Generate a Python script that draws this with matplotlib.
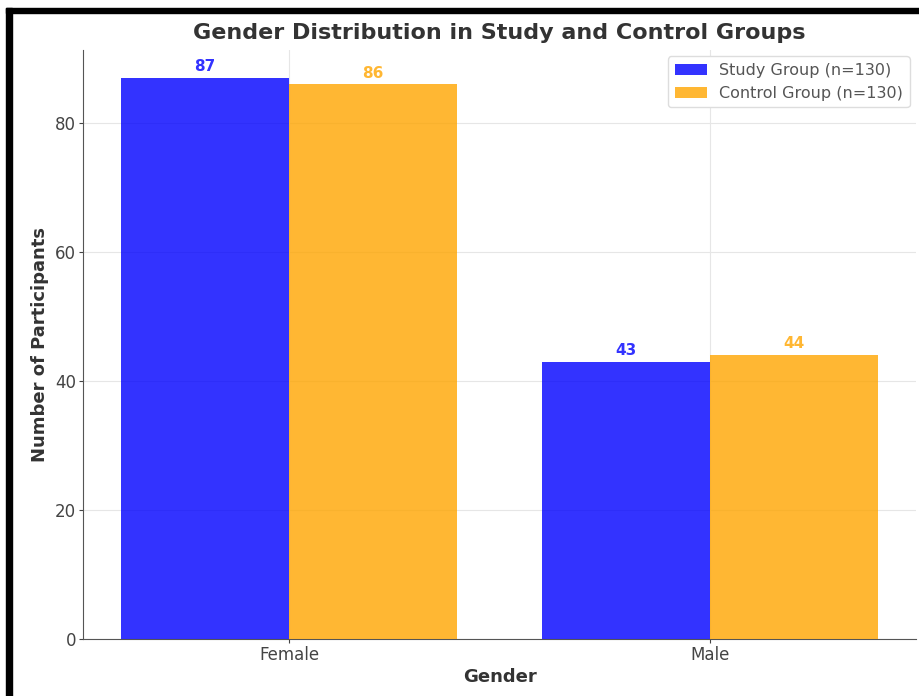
import matplotlib
matplotlib.use("Agg")
import matplotlib.pyplot as plt
import numpy as np
from matplotlib.patches import Rectangle

categories = ["Female", "Male"]
study = [87, 43]
control = [86, 44]
study_label = "Study Group (n=130)"
control_label = "Control Group (n=130)"

W, H = 919, 696
fig = plt.figure(figsize=(W / 100, H / 100), dpi=100)
ax = fig.add_axes([83 / W, 57 / H, 833 / W, 589 / H])

x = np.arange(len(categories))
w = 0.4
b1 = ax.bar(x - w / 2, study, w, color="blue", alpha=0.8, label=study_label, zorder=3)
b2 = ax.bar(x + w / 2, control, w, color="orange", alpha=0.8, label=control_label, zorder=3)

for rect, v in zip(b1, study):
    ax.text(rect.get_x() + rect.get_width() / 2, v + 0.6, str(v), ha="center", va="bottom",
            color="blue", fontweight="bold", fontsize=11, alpha=0.8)
for rect, v in zip(b2, control):
    ax.text(rect.get_x() + rect.get_width() / 2, v + 0.6, str(v), ha="center", va="bottom",
            color="orange", fontweight="bold", fontsize=11, alpha=0.8)

ax.set_xticks(x)
ax.set_xticklabels(categories)
ax.set_ylim(0, 91.35)
ax.set_xlim(-0.49, 1.49)
ax.set_yticks([0, 20, 40, 60, 80])
ax.grid(True, color="#e6e6e6", linewidth=0.8, zorder=0)
for s in ["top", "right"]:
    ax.spines[s].set_visible(False)
for s in ["left", "bottom"]:
    ax.spines[s].set_color("#555555")
ax.tick_params(colors="#444444", labelsize=12, length=3, pad=2)
ax.set_xlabel("Gender", fontsize=13, fontweight="bold", color="#333333", labelpad=3)
ax.set_ylabel("Number of Participants", fontsize=13, fontweight="bold", color="#333333")
fig.text(0.5 * (192 + 806) / W, 1 - 33 / H, "Gender Distribution in Study and Control Groups",
         ha="center", va="center", fontsize=16, fontweight="bold", color="#333333")
leg = ax.legend(loc="upper right", fontsize=11.5, frameon=True, framealpha=1,
                edgecolor="#dddddd", labelcolor="#555555", borderaxespad=0.4)

# black frame
fig.patches.append(Rectangle((6 / W, 0), 6 / W, (H - 8) / H, transform=fig.transFigure,
                             color="black", zorder=10))
fig.patches.append(Rectangle((6 / W, 1 - 13 / H), 1, 5 / H, transform=fig.transFigure,
                             color="black", zorder=10))

fig.savefig("out.png", dpi=100)
